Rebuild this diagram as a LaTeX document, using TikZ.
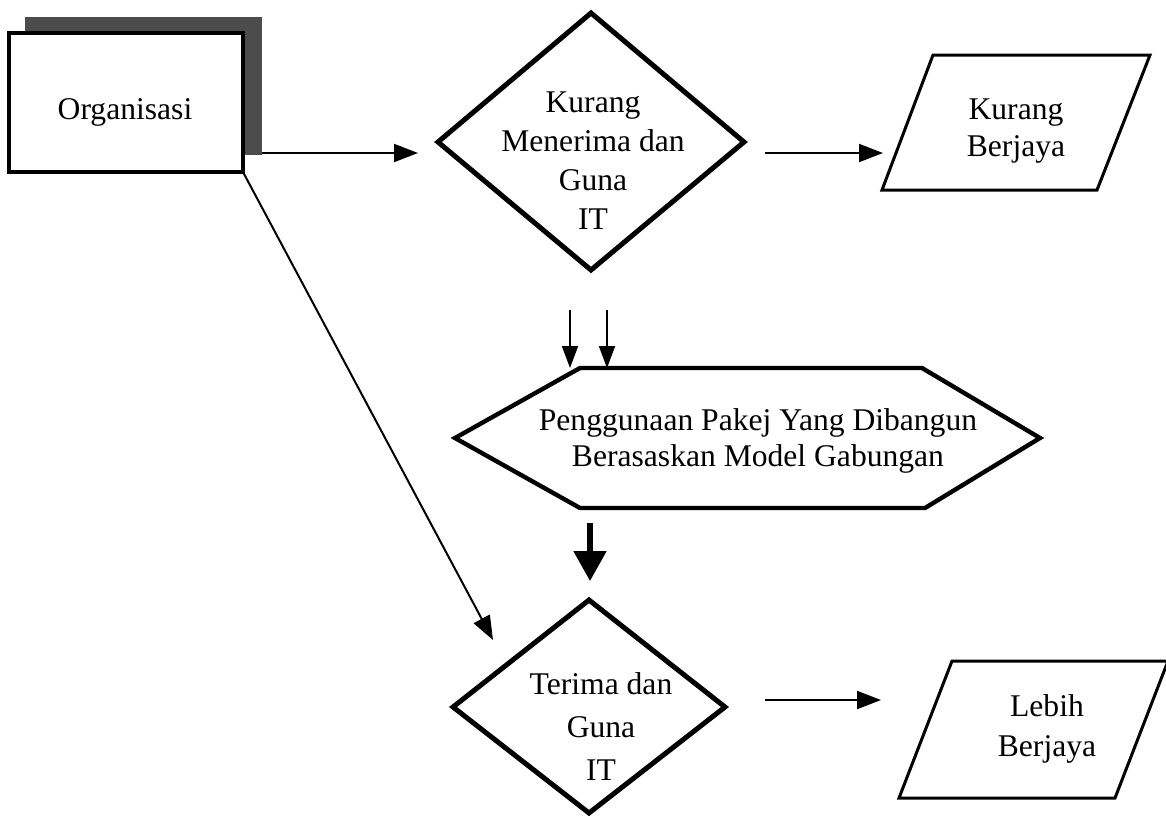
\documentclass[tikz,border=0pt]{standalone}
\usepackage{fontspec}
\setmainfont{Liberation Serif}
\usetikzlibrary{arrows.meta}
\begin{document}
\begin{tikzpicture}[x=0.5pt,y=-0.5pt,
  lbl/.style={align=center,inner sep=0pt,font=\fontsize{15.8}{19.5}\selectfont},
  conn/.style={line width=1pt,-{Triangle[length=12pt,width=9pt]}},
  thin/.style={line width=0.9pt,-{Triangle[length=11pt,width=8pt]}},
  bigarrow/.style={line width=2.6pt,-{Triangle[length=15pt,width=16pt]}},
  dia/.style={line width=2.5pt,line join=miter},
  para/.style={line width=1.5pt,line join=miter},
  hexa/.style={line width=2.2pt,line join=miter},
  boxshape/.style={line width=2pt,fill=white}]
\useasboundingbox (0,0) rectangle (1166,815);
% Organisasi box with shadow
\fill[black!70] (25,17) rectangle (262,155);
\draw[boxshape] (9,33) rectangle (243,172);
\node[lbl] (org) at (125,112) {Organisasi};
\coordinate (orgR) at (262,153);
\coordinate (orgC) at (243,172);
% Diamond 1
\draw[dia] (591,13) -- (744,142) -- (591,270) -- (438,142) -- cycle;
\node[lbl] (d1) at (593,161) {Kurang\\Menerima dan\\Guna\\IT};
% Parallelogram 1
\draw[para] (933,55) -- (1150,55) -- (1097,190) -- (882,190) -- cycle;
\node[lbl,font=\fontsize{15.8}{18.5}\selectfont] (p1) at (1016,131) {Kurang\\Berjaya};
% Hexagon
\draw[hexa] (455,438) -- (580,368) -- (922,368) -- (1040,438) -- (925,508) -- (580,508) -- cycle;
\node[lbl,font=\fontsize{15.8}{18}\selectfont] (hx) at (758,441) {Penggunaan Pakej Yang Dibangun\\Berasaskan Model Gabungan};
% Diamond 2
\draw[dia] (589,600) -- (725,707) -- (589,813) -- (453,707) -- cycle;
\node[lbl,font=\fontsize{15.8}{21.5}\selectfont] (d2) at (601,727) {Terima dan\\Guna\\IT};
% Parallelogram 2
\draw[para] (952,661) -- (1168,661) -- (1115,798) -- (899,798) -- cycle;
\node[lbl,font=\fontsize{15.8}{20}\selectfont] (p2) at (1047,729) {Lebih\\Berjaya};
% connector end points
\coordinate (a1e) at (418,153);
\coordinate (a2s) at (765,153);
\coordinate (a2e) at (883,153);
\coordinate (s1s) at (570,310);
\coordinate (s1e) at (570,368);
\coordinate (s2s) at (607,310);
\coordinate (s2e) at (607,368);
\coordinate (bs) at (590,523);
\coordinate (be) at (590,581);
\coordinate (dge) at (493,640);
\coordinate (a4s) at (765,700);
\coordinate (a4e) at (881,700);
% connectors
\draw[conn] (orgR) -- (a1e);
\draw[conn] (a2s) -- (a2e);
\draw[thin] (s1s) -- (s1e);
\draw[thin] (s2s) -- (s2e);
\draw[bigarrow] (bs) -- (be);
\draw[conn] (orgC) -- (dge);
\draw[conn] (a4s) -- (a4e);
\end{tikzpicture}
\end{document}
